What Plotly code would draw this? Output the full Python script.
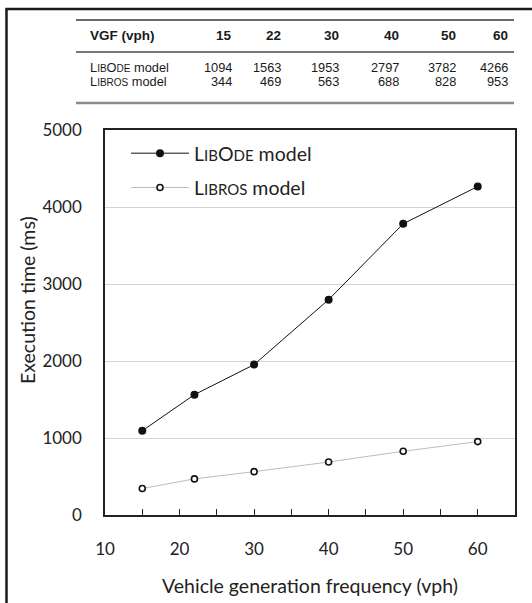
import plotly.graph_objects as go

# ---- data ----
vgf = [15, 22, 30, 40, 50, 60]
libode = [1094, 1563, 1953, 2797, 3782, 4266]
libros = [344, 469, 563, 688, 828, 953]
header_label = "VGF (vph)"
ode_label = "L<span style='font-size:10px'>IB</span>O<span style='font-size:10px'>DE</span> model"
ros_label = "L<span style='font-size:10px'>IBROS</span> model"
ode_legend = "L<span style='font-size:15px'>IB</span>O<span style='font-size:15px'>DE</span> model"
ros_legend = "L<span style='font-size:15px'>IBROS</span> model"
x_title = "Vehicle generation frequency (vph)"
y_title = "Execution time (ms)"
x_ticks = [10, 20, 30, 40, 50, 60]
y_ticks = [0, 1000, 2000, 3000, 4000, 5000]

W, H = 532, 603
L, R, T, B = 105, 515, 130, 515


def px(x):
    return (x - L) / (R - L)


def py(y):
    return (B - y) / (B - T)


fig = go.Figure()
fig.add_trace(go.Scatter(
    x=vgf, y=libode, mode="lines+markers", name=ode_legend, legendgroup="a",
    line=dict(color="#111111", width=1),
    marker=dict(symbol="circle", size=8, color="#111111"),
))
fig.add_trace(go.Scatter(
    x=vgf, y=libros, mode="lines+markers", name=ros_legend, legendgroup="b",
    line=dict(color="#bdbdbd", width=1),
    marker=dict(symbol="circle", size=6, color="white",
                line=dict(color="#111111", width=1.6)),
))

axis_font = dict(family="Lato, Carlito, sans-serif", size=17, color="#222222")
title_font = dict(family="Lato, Carlito, sans-serif", size=19.5, color="#222222")

fig.update_layout(
    width=W, height=H,
    margin=dict(l=L, r=W - R, t=T, b=H - B),
    paper_bgcolor="white", plot_bgcolor="white",
    font=axis_font,
    showlegend=True,
    legend=dict(x=px(126), y=py(134), xanchor="left", yanchor="top",
                bgcolor="rgba(0,0,0,0)", borderwidth=0,
                font=dict(family="Lato, sans-serif", size=19.5, color="#222222"),
                tracegroupgap=6, traceorder="grouped", itemwidth=58),
    xaxis=dict(range=[10, 65], tickvals=x_ticks, ticks="inside", ticklen=6,
               tickcolor="#222222", showgrid=False, zeroline=False, automargin=False,
               showline=True, linecolor="#222222", linewidth=1.5, mirror=True,
               minor=dict(dtick=5, ticks="inside", ticklen=6, tickcolor="#222222", showgrid=False),
               ticklabelstandoff=18, tickfont=axis_font,
               title=dict(text=x_title, font=title_font, standoff=21)),
    yaxis=dict(range=[0, 5000], tickvals=y_ticks, ticks="", showgrid=True,
               gridcolor="#d4d4d4", gridwidth=1, zeroline=False, automargin=False,
               showline=True, linecolor="#222222", linewidth=1.5, mirror=True,
               ticklabelstandoff=18, tickfont=axis_font),
)

shapes = []
# outer frame (left and top)
shapes.append(dict(type="line", xref="paper", yref="paper",
                   x0=px(6.5), x1=px(6.5), y0=py(8.5), y1=py(610),
                   line=dict(color="#1a1a1a", width=2.5)))
shapes.append(dict(type="line", xref="paper", yref="paper",
                   x0=px(5.5), x1=px(540), y0=py(9), y1=py(9),
                   line=dict(color="#1a1a1a", width=2.5)))
# table rules
for yy, wdt, col in [(20, 2, "#6a6a6a"), (52, 1.5, "#4a4a4a"), (103, 2.5, "#8a8a8a")]:
    shapes.append(dict(type="line", xref="paper", yref="paper",
                       x0=px(76), x1=px(514), y0=py(yy), y1=py(yy),
                       line=dict(color=col, width=wdt)))
fig.update_layout(shapes=shapes)

tfont = dict(family="Liberation Sans, Arial, sans-serif", size=12.8, color="#1a1a1a")
hfont = dict(family="Liberation Sans, Arial, sans-serif", size=13.5, color="#1a1a1a")
col_right = [234, 283, 341, 401, 458, 510]
ann = []
# y-axis title
ann.append(dict(text=y_title, x=px(27), y=py(300), xref="paper", yref="paper",
                xanchor="center", yanchor="middle", textangle=-90, showarrow=False,
                font=title_font))
ann.append(dict(text="<b>" + header_label + "</b>", x=px(88), y=py(36), xref="paper", yref="paper",
                xanchor="left", yanchor="middle", showarrow=False, font=hfont))
ann.append(dict(text=ode_label, x=px(88), y=py(68), xref="paper", yref="paper",
                xanchor="left", yanchor="middle", showarrow=False, font=tfont))
ann.append(dict(text=ros_label, x=px(88), y=py(82), xref="paper", yref="paper",
                xanchor="left", yanchor="middle", showarrow=False, font=tfont))
for i, v in enumerate(vgf):
    xr = px(col_right[i])
    ann.append(dict(text="<b>%d</b>" % v, x=xr, y=py(36), xref="paper", yref="paper",
                    xanchor="right", yanchor="middle", showarrow=False, font=hfont))
    ann.append(dict(text=str(libode[i]), x=xr, y=py(68), xref="paper", yref="paper",
                    xanchor="right", yanchor="middle", showarrow=False, font=tfont))
    ann.append(dict(text=str(libros[i]), x=xr, y=py(82), xref="paper", yref="paper",
                    xanchor="right", yanchor="middle", showarrow=False, font=tfont))
fig.update_layout(annotations=ann)

fig.write_html("out.html")
